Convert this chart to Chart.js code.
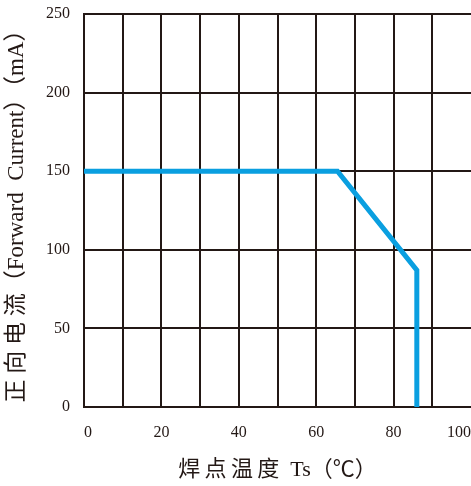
<!DOCTYPE html>
<html>
<head>
<meta charset="utf-8">
<script src="https://cdn.jsdelivr.net/npm/chart.js@4"></script>
<style>
  html, body { margin: 0; padding: 0; background: #fff; overflow: hidden; }
  #wrap { width: 471px; height: 486px; }
</style>
</head>
<body>
<div id="wrap"><canvas id="c"></canvas></div>
<script>
// derating curve: solder point temperature vs forward current
const temps = [0, 65.5, 86, 86];
const currents = [150, 150, 87, 0];
const xTicks = [0, 20, 40, 60, 80, 100];
const yTicks = [0, 50, 100, 150, 200, 250];

const serif = "'Liberation Serif', 'Times New Roman', 'Noto Sans CJK SC', serif";
const gridColor = '#231815';
const sp = '\u2009';

const ctx = document.getElementById('c').getContext('2d');
new Chart(ctx, {
  type: 'line',
  data: {
    datasets: [{
      data: temps.map((t, i) => ({ x: t, y: currents[i] })),
      borderColor: '#0A9FE0',
      borderWidth: 5,
      pointRadius: 0,
      fill: false,
      tension: 0,
      borderJoinStyle: 'miter',
    }],
  },
  options: {
    responsive: true,
    maintainAspectRatio: false,
    animation: false,
    layout: { padding: { top: 14, right: 0, left: 0, bottom: 0 } },
    plugins: { legend: { display: false }, tooltip: { enabled: false } },
    scales: {
      x: {
        type: 'linear',
        min: 0,
        max: 100,
        afterFit: (s) => { s.height = 79; s.paddingLeft = 0; s.paddingRight = 0; },
        grid: {
          color: (c) => (c.tick && c.tick.value === 100 ? 'rgba(0,0,0,0)' : gridColor),
          lineWidth: 2,
          drawTicks: false,
        },
        border: { color: gridColor, width: 2 },
        ticks: {
          stepSize: 10,
          padding: 16,
          align: 'inner',
          color: '#231815',
          font: { family: serif, size: 16 },
          callback: (v) => (xTicks.includes(v) ? String(v) : ''),
        },
        title: {
          display: true,
          text: '焊' + sp + '点' + sp + '温' + sp + '度  Ts（℃）',
          color: '#231815',
          font: { family: serif, size: 22 },
          padding: { top: 0, bottom: 3 },
        },
      },
      y: {
        min: 0,
        max: 250,
        afterFit: (s) => { s.width = 84; s.paddingTop = 0; s.paddingBottom = 0; },
        grid: { color: gridColor, lineWidth: 2, drawTicks: false },
        border: { color: gridColor, width: 2 },
        ticks: {
          stepSize: 50,
          padding: 14,
          color: '#231815',
          font: { family: serif, size: 16 },
          callback: (v) => (yTicks.includes(v) ? String(v) : ''),
        },
        title: {
          display: true,
          text: '正 向 电 流（Forward  Current）（mA）',
          color: '#231815',
          font: { family: serif, size: 23 },
          padding: { top: 3, bottom: 0 },
        },
      },
    },
  },
});
</script>
</body>
</html>
